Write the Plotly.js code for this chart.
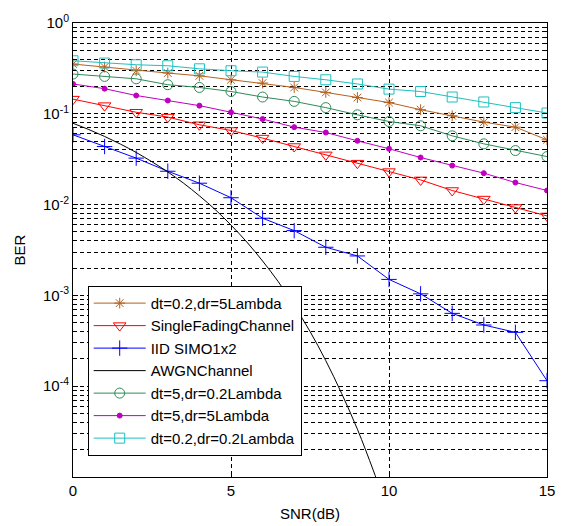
<!DOCTYPE html>
<html>
<head>
<meta charset="utf-8">
<script src="https://cdn.plot.ly/plotly-3.0.1.min.js"></script>
<style>html,body{margin:0;padding:0;background:#fff;}#chart{width:586px;height:526px;}</style>
</head>
<body>
<div id="chart"></div>
<script>
var snr = [0,1,2,3,4,5,6,7,8,9,10,11,12,13,14,15];
var berDt02Dr5 = [0.353,0.327,0.298,0.281,0.262,0.237,0.218,0.195,0.172,0.151,0.133,0.111,0.0951,0.0810,0.0713,0.0517];
var berSingle = [0.145,0.123,0.104,0.092,0.0757,0.0655,0.0540,0.0436,0.0353,0.0286,0.0231,0.0187,0.0143,0.0115,0.00928,0.00750];
var berIID = [0.0587,0.0436,0.0325,0.0233,0.0172,0.0119,0.00708,0.00517,0.00339,0.00272,0.00150,0.00104,0.000634,0.000472,0.000392,0.000115];
var snrAwgn = [0,0.5,1,1.5,2,2.5,3,3.5,4,4.5,5,5.5,6,6.5,7,7.5,8,8.5,9,9.5,9.8];
var berAwgn = [0.0786,0.0671,0.0563,0.0464,0.0375,0.0296,0.0229,0.0172,0.0125,0.00882,0.00595,0.00387,0.00239,0.00141,0.000773,0.000401,0.000191,0.0000834,0.0000336,0.0000119,0.0000061];
var berDt5Dr02 = [0.274,0.258,0.243,0.209,0.195,0.176,0.153,0.137,0.117,0.0975,0.0822,0.0738,0.0572,0.0467,0.0394,0.0338];
var berDt5Dr5 = [0.213,0.189,0.159,0.140,0.123,0.104,0.0875,0.0713,0.0622,0.0504,0.0412,0.0330,0.0269,0.0222,0.0175,0.0143];
var berDt02Dr02 = [0.384,0.362,0.347,0.338,0.313,0.298,0.288,0.258,0.237,0.213,0.187,0.176,0.153,0.135,0.117,0.102];
var yTickVals = [1e-4,1e-3,1e-2,1e-1,1];
var yTickText = ['10<sup>-4</sup>','10<sup>-3</sup>','10<sup>-2</sup>','10<sup>-1</sup>','10<sup>0</sup>'];
var xTickVals = [0,5,10,15];

var minorVals = [];
for (var e = -5; e < 0; e++) { for (var m = 2; m <= 9; m++) { minorVals.push(m * Math.pow(10, e)); } }

var FONT = 'Liberation Sans, Arial, sans-serif';
function tr(name, x, y, color, sym, size) {
  var t = {x: x, y: y, name: name, type: 'scatter', mode: 'lines', line: {color: color, width: 1}};
  if (sym) {
    t.mode = 'lines+markers';
    t.marker = {symbol: sym, size: size, color: color, line: {color: color, width: 1}};
  }
  return t;
}
var awgn = tr('AWGNChannel', snrAwgn, berAwgn, '#000000');
awgn.line.shape = 'spline';
var data = [
  tr('dt=0.2,dr=5Lambda', snr, berDt02Dr5, '#B4601E', 'asterisk-open', 9),
  tr('SingleFadingChannel', snr, berSingle, '#FF0000', 'triangle-down-open', 11),
  tr('IID SIMO1x2', snr, berIID, '#0000FF', 'cross-thin-open', 11),
  awgn,
  tr('dt=5,dr=0.2Lambda', snr, berDt5Dr02, '#2E8B57', 'circle-open', 10),
  tr('dt=5,dr=5Lambda', snr, berDt5Dr5, '#C000C0', 'circle', 5),
  tr('dt=0.2,dr=0.2Lambda', snr, berDt02Dr02, '#1EC0C0', 'square-open', 10)
];

var layout = {
  width: 586, height: 526,
  margin: {l: 73, r: 39, t: 23, b: 49, pad: 0},
  paper_bgcolor: '#ffffff', plot_bgcolor: '#ffffff',
  font: {family: FONT, size: 14, color: '#000'},
  showlegend: true,
  legend: {x: 0.031, y: 0.421, xanchor: 'left', yanchor: 'top', bgcolor: '#ffffff',
    bordercolor: '#000', borderwidth: 1, font: {family: FONT, size: 15, color: '#000'},
    itemwidth: 52, tracegroupgap: 0},
  xaxis: {
    range: [0, 15], tickvals: xTickVals, ticktext: xTickVals.map(String),
    showgrid: true, gridcolor: '#000', griddash: '4px,3px', gridwidth: 1,
    zeroline: false, showline: true, linecolor: '#000', linewidth: 1, mirror: 'ticks',
    ticks: 'inside', ticklen: 5, tickcolor: '#000',
    tickfont: {family: FONT, size: 15, color: '#000'},
    title: {text: 'SNR(dB)', font: {family: FONT, size: 15, color: '#000'}, standoff: 10}
  },
  yaxis: {
    type: 'log', range: [-5, 0], tickvals: yTickVals, ticktext: yTickText,
    showgrid: true, gridcolor: '#000', griddash: '4px,3px', gridwidth: 1,
    zeroline: false, showline: true, linecolor: '#000', linewidth: 1, mirror: 'ticks',
    ticks: 'inside', ticklen: 5, tickcolor: '#000',
    tickfont: {family: FONT, size: 15, color: '#000'},
    minor: {tickmode: 'array', tickvals: minorVals, showgrid: true, gridcolor: '#000', griddash: '4px,3px', gridwidth: 1, ticks: 'inside', ticklen: 3, tickcolor: '#000'},
    title: {text: 'BER', font: {family: FONT, size: 15, color: '#000'}, standoff: 13}
  }
};
Plotly.newPlot('chart', data, layout, {displayModeBar: false, staticPlot: true});
</script>
</body>
</html>
